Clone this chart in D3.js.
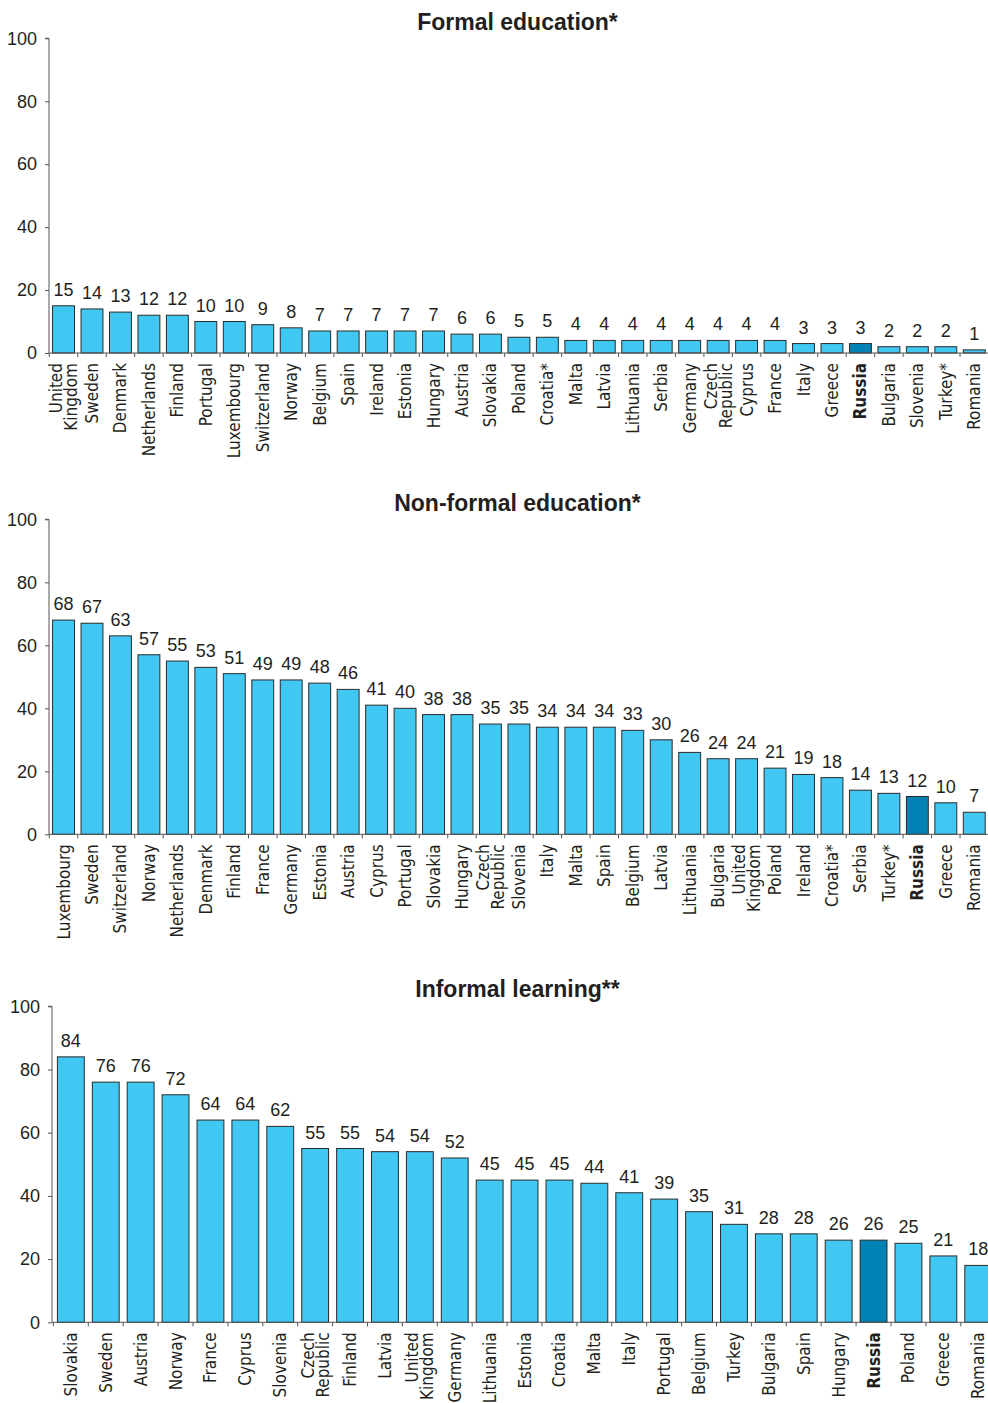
<!DOCTYPE html>
<html>
<head>
<meta charset="utf-8">
<script src="https://cdn.jsdelivr.net/npm/d3@7"></script>
<style>
  html, body { margin: 0; padding: 0; background: #fff; }
  svg { display: block; }
</style>
</head>
<body>
<svg id="chart" width="988" height="1403"></svg>
<script>
const formalCategories = ["United\nKingdom","Sweden","Denmark","Netherlands","Finland","Portugal","Luxembourg","Switzerland","Norway","Belgium","Spain","Ireland","Estonia","Hungary","Austria","Slovakia","Poland","Croatia*","Malta","Latvia","Lithuania","Serbia","Germany","Czech\nRepublic","Cyprus","France","Italy","Greece","Russia","Bulgaria","Slovenia","Turkey*","Romania"];
const formalValues = [15,14,13,12,12,10,10,9,8,7,7,7,7,7,6,6,5,5,4,4,4,4,4,4,4,4,3,3,3,2,2,2,1];

const nonFormalCategories = ["Luxembourg","Sweden","Switzerland","Norway","Netherlands","Denmark","Finland","France","Germany","Estonia","Austria","Cyprus","Portugal","Slovakia","Hungary","Czech\nRepublic","Slovenia","Italy","Malta","Spain","Belgium","Latvia","Lithuania","Bulgaria","United\nKingdom","Poland","Ireland","Croatia*","Serbia","Turkey*","Russia","Greece","Romania"];
const nonFormalValues = [68,67,63,57,55,53,51,49,49,48,46,41,40,38,38,35,35,34,34,34,33,30,26,24,24,21,19,18,14,13,12,10,7];

const informalCategories = ["Slovakia","Sweden","Austria","Norway","France","Cyprus","Slovenia","Czech\nRepublic","Finland","Latvia","United\nKingdom","Germany","Lithuania","Estonia","Croatia","Malta","Italy","Portugal","Belgium","Turkey","Bulgaria","Spain","Hungary","Russia","Poland","Greece","Romania"];
const informalValues = [84,76,76,72,64,64,62,55,55,54,54,52,45,45,45,44,41,39,35,31,28,28,26,26,25,21,18];

const yTickValues = [0,20,40,60,80,100];
const titles = ["Formal education*","Non-formal education*","Informal learning**"];
const highlight = "Russia";

const panels = [
  {title: titles[0], cats: formalCategories, vals: formalValues, axisX: 49, x0: 49.3, x1: 988.5, yZero: 353, yTop: 38.3, titleY: 30},
  {title: titles[1], cats: nonFormalCategories, vals: nonFormalValues, axisX: 49, x0: 49.3, x1: 988.5, yZero: 834.3, yTop: 519.3, titleY: 511},
  {title: titles[2], cats: informalCategories, vals: informalValues, axisX: 52, x0: 53.4, x1: 995.7, yZero: 1322.3, yTop: 1006.3, titleY: 997}
];

const svg = d3.select("#chart");
const numFont = "'Liberation Sans Narrow', 'Arial Narrow', sans-serif";
const catFont = "'DejaVu Sans Condensed', 'DejaVu Sans', sans-serif";

panels.forEach(p => {
  const g = svg.append("g");
  const x = d3.scaleBand().domain(p.cats).range([p.x0, p.x1]).paddingInner(0.23).paddingOuter(0.115);
  const y = d3.scaleLinear().domain([0, 100]).range([p.yZero, p.yTop]);

  // title
  g.append("text")
    .attr("x", 517.5).attr("y", p.titleY)
    .attr("text-anchor", "middle")
    .attr("font-family", numFont)
    .attr("font-weight", "bold")
    .attr("font-size", 23)
    .attr("fill", "#231f20")
    .text(p.title);

  // y axis
  const yAxis = d3.axisLeft(y).tickValues(yTickValues).tickSize(4).tickPadding(8);
  const ya = g.append("g").attr("transform", `translate(${p.axisX},0)`).call(yAxis);
  ya.select(".domain").attr("stroke", "#555").attr("d", `M-4,${p.yTop}H0V${p.yZero}`);
  ya.selectAll(".tick line").attr("stroke", "#555");
  ya.selectAll(".tick text").attr("font-family", numFont).attr("font-size", 18).attr("fill", "#231f20");

  // bars
  g.selectAll("rect.bar").data(p.cats).enter().append("rect")
    .attr("class", "bar")
    .attr("x", d => x(d))
    .attr("width", x.bandwidth())
    .attr("y", (d, i) => y(p.vals[i]))
    .attr("height", (d, i) => y(0) - y(p.vals[i]))
    .attr("fill", d => d === highlight ? "#0082B4" : "#40C7F2")
    .attr("stroke", "#2b2b2b")
    .attr("stroke-width", 1);

  // x axis line and boundary ticks
  g.append("line")
    .attr("x1", p.axisX).attr("x2", p.x1)
    .attr("y1", p.yZero).attr("y2", p.yZero)
    .attr("stroke", "#555");
  const bounds = p.cats.map(c => x(c) - x.step() * x.paddingInner() / 2);
  bounds.push(p.x1);
  g.selectAll("line.xt").data(bounds).enter().append("line")
    .attr("class", "xt")
    .attr("x1", d => d).attr("x2", d => d)
    .attr("y1", p.yZero).attr("y2", p.yZero + 4)
    .attr("stroke", "#555");

  // value labels
  g.selectAll("text.val").data(p.cats).enter().append("text")
    .attr("class", "val")
    .attr("x", d => x(d) + x.bandwidth() / 2)
    .attr("y", (d, i) => y(p.vals[i]) - 10)
    .attr("text-anchor", "middle")
    .attr("font-family", numFont)
    .attr("font-size", 18)
    .attr("fill", "#231f20")
    .text((d, i) => p.vals[i]);

  // category labels (rotated)
  const lh = 15;
  p.cats.forEach(c => {
    const cx = x(c) + x.bandwidth() / 2;
    const lines = c.split("\n");
    const t = g.append("text")
      .attr("transform", `translate(${cx},${p.yZero + 10}) rotate(-90)`)
      .attr("text-anchor", "end")
      .attr("font-family", catFont)
      .attr("font-size", 17)
      .attr("font-weight", c === highlight ? "bold" : "normal")
      .attr("fill", "#231f20");
    lines.forEach((ln, k) => {
      const off = (k - (lines.length - 1) / 2) * lh + 6;
      t.append("tspan").attr("x", 0).attr("y", off).text(ln);
    });
  });
});
</script>
</body>
</html>
